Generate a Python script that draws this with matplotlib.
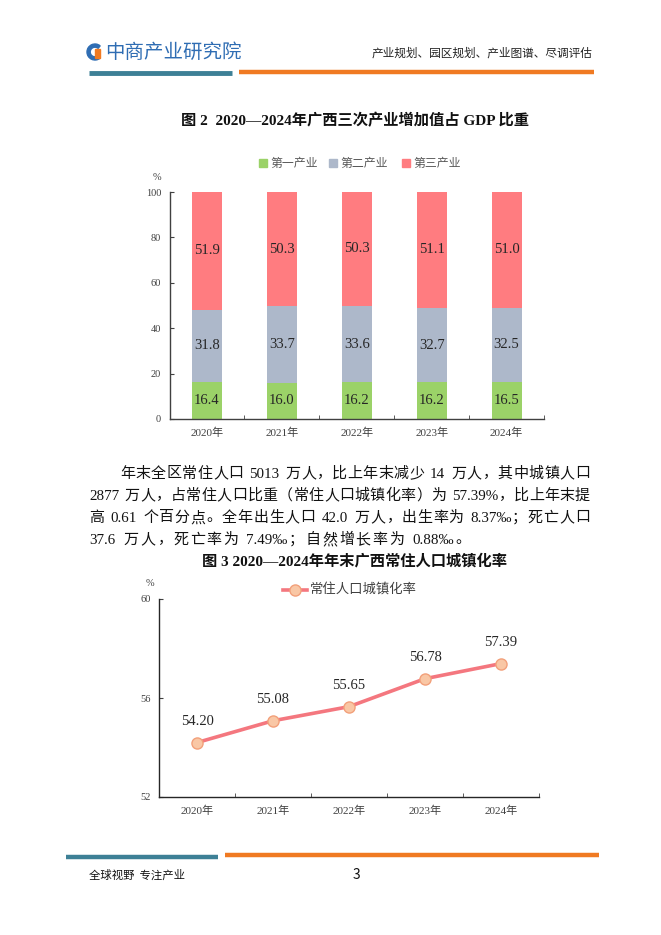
import re
import matplotlib
matplotlib.use("Agg")
import matplotlib.pyplot as plt
from matplotlib.patches import Wedge, Rectangle
from matplotlib.lines import Line2D

# ---------------- data ----------------
years = ["2020年", "2021年", "2022年", "2023年", "2024年"]
industry_names = ["第一产业", "第二产业", "第三产业"]
primary = [16.4, 16.0, 16.2, 16.2, 16.5]
secondary = [31.8, 33.7, 33.6, 32.7, 32.5]
tertiary = [51.9, 50.3, 50.3, 51.1, 51.0]
urban_rate = [54.20, 55.08, 55.65, 56.78, 57.39]
urban_name = "常住人口城镇化率"
bar_yticks = [0, 20, 40, 60, 80, 100]
line_yticks = [52, 56, 60]

title2 = "图 2  2020—2024年广西三次产业增加值占 GDP 比重"
title3 = "图 3 2020—2024年年末广西常住人口城镇化率"
body_lines = [
    "年末全区常住人口 5013 万人，比上年末减少 14 万人，其中城镇人口",
    "2877 万人，占常住人口比重（常住人口城镇化率）为 57.39%，比上年末提",
    "高 0.61 个百分点。全年出生人口 42.0 万人，出生率为 8.37‰；死亡人口",
    "37.6 万人，死亡率为 7.49‰；自然增长率为 0.88‰。",
]

# ---------------- style ----------------
C_GREEN = "#9BD268"
C_GREY = "#ADB8CA"
C_RED = "#FF7C80"
C_LINE = "#F4777F"
C_MFACE = "#F9C7A5"
C_MEDGE = "#F2A07A"
C_TEAL = "#3D8096"
C_ORANGE = "#F07A22"
C_LOGO = "#2F6DB3"
SERIF = ["Liberation Serif", "Noto Sans CJK SC", "DejaVu Sans"]
SANS = ["Noto Sans CJK SC", "DejaVu Sans"]
plt.rcParams["font.family"] = SANS

W, H = 661, 935
fig = plt.figure(figsize=(W / 100, H / 100), dpi=100)
page = fig.add_axes([0, 0, 1, 1])
page.set_xlim(0, W)
page.set_ylim(H, 0)
page.axis("off")

# ---------------- header ----------------
page.add_patch(Wedge((95, 52), 8, 50, 310, width=3.2, color=C_LOGO))
page.add_patch(Rectangle((95, 49), 5, 9, color=C_ORANGE))
page.text(105, 52, "中商产业研究院", fontsize=14, color=C_LOGO, va="center",
          ha="left", family=SANS)
page.text(592, 53, "产业规划、园区规划、产业图谱、尽调评估", fontsize=8.4,
          color="#222222", va="center", ha="right", family=SANS)
page.plot([89, 232], [73, 73], color=C_TEAL, lw=3.5, solid_capstyle="butt")
page.plot([239, 594], [72, 72], color=C_ORANGE, lw=3.2, solid_capstyle="butt")

# ---------------- footer ----------------
page.plot([66, 218], [857, 857], color=C_TEAL, lw=3.2, solid_capstyle="butt")
page.plot([225, 599], [855, 855], color=C_ORANGE, lw=3.2, solid_capstyle="butt")
page.text(89, 875, "全球视野  专注产业", fontsize=8.2, color="#111111",
          va="center", ha="left", family=SANS)
page.text(356, 875, "3", fontsize=10, color="#111111", va="center",
          ha="center", family=SANS)

# ---------------- titles ----------------
page.text(355, 121, title2, fontsize=11, weight="bold", family=SERIF,
          ha="center", va="center", color="#111111")
page.text(355, 561, title3, fontsize=11, weight="bold", family=SERIF,
          ha="center", va="center", color="#111111")

# ---------------- body text (justified) ----------------
renderer = fig.canvas.get_renderer()
BODY_FS = 10.8
SPACE_W = 5.0


def place_line(text, x0, x1, y, justify=True):
    tokens = re.findall(r"[A-Za-z0-9.%‰]+| |\S", text)
    items = []
    for tok in tokens:
        if tok == " ":
            items.append((None, SPACE_W))
            continue
        t = page.text(0, y, tok, fontsize=BODY_FS, family=SERIF,
                      va="center", ha="left", color="#111111")
        bb = t.get_window_extent(renderer)
        items.append((t, bb.width))
    if justify:
        gap = (x1 - x0 - sum(w for _, w in items)) / (len(items) - 1)
    else:
        gap = 1.6
    x = x0
    for t, w in items:
        if t is not None:
            t.set_x(x)
        x += w + gap


place_line(body_lines[0], 120, 590, 474)
place_line(body_lines[1], 89, 590, 496)
place_line(body_lines[2], 89, 590, 518)
place_line(body_lines[3], 89, 452, 540, justify=False)

# ---------------- bar chart ----------------
axb = fig.add_axes([169.5 / W, 1 - 419 / H, (544 - 169.5) / W, (419 - 192) / H])
x = list(range(len(years)))
bw = 0.4
axb.bar(x, primary, width=bw, color=C_GREEN, zorder=2)
axb.bar(x, secondary, width=bw, bottom=primary, color=C_GREY, zorder=2)
bottom3 = [p + s for p, s in zip(primary, secondary)]
axb.bar(x, tertiary, width=bw, bottom=bottom3, color=C_RED, zorder=2)
for i in x:
    axb.text(i, primary[i] / 2, f"{primary[i]:.1f}", ha="center", va="center",
             fontsize=10.5, family=SERIF, color="#262626")
    axb.text(i, primary[i] + secondary[i] / 2, f"{secondary[i]:.1f}",
             ha="center", va="center", fontsize=10.5, family=SERIF, color="#262626")
    axb.text(i, bottom3[i] + tertiary[i] / 2, f"{tertiary[i]:.1f}",
             ha="center", va="center", fontsize=10.5, family=SERIF, color="#262626")
axb.set_xlim(-0.5, 4.5)
axb.set_ylim(0, 100)
axb.set_yticks(bar_yticks)
axb.set_yticklabels([str(v) for v in bar_yticks], fontsize=7.5, family=SERIF,
                    color="#404040")
axb.set_xticks(x)
axb.set_xticklabels(years, fontsize=8, family=SERIF, color="#404040")
axb.set_xticks([i + 0.5 for i in x], minor=True)
axb.tick_params(axis="x", which="major", length=0, pad=6)
axb.tick_params(axis="x", which="minor", length=3, direction="in", color="#404040")
axb.tick_params(axis="y", length=3, direction="in", color="#404040", pad=6)
for s in ["top", "right"]:
    axb.spines[s].set_visible(False)
for s in ["left", "bottom"]:
    axb.spines[s].set_color("#404040")
    axb.spines[s].set_linewidth(1.0)
page.text(157, 177, "%", fontsize=7.5, family=SERIF, ha="center", va="center",
          color="#404040")
# legend
for cx, col, name in zip([263, 333, 406], [C_GREEN, C_GREY, C_RED], industry_names):
    page.add_patch(Rectangle((cx - 4, 159), 8, 8, color=col))
    page.text(cx + 7, 163, name, fontsize=8.6, family=SANS, va="center",
              ha="left", color="#595959")

# ---------------- line chart ----------------
axl = fig.add_axes([159 / W, 1 - 797 / H, (539 - 159) / W, (797 - 599) / H])
axl.plot(x, urban_rate, color=C_LINE, lw=2.6, marker="o", markersize=8,
         markerfacecolor=C_MFACE, markeredgecolor=C_MEDGE, markeredgewidth=1.0,
         zorder=3, clip_on=False)
for i, v in zip(x, urban_rate):
    axl.annotate(f"{v:.2f}", (i, v), xytext=(0, 15), textcoords="offset points",
                 ha="center", va="center", fontsize=10.5, family=SERIF,
                 color="#262626")
axl.set_xlim(-0.5, 4.5)
axl.set_ylim(52, 60)
axl.set_yticks(line_yticks)
axl.set_yticklabels([str(v) for v in line_yticks], fontsize=7.5, family=SERIF,
                    color="#404040")
axl.set_xticks(x)
axl.set_xticklabels(years, fontsize=8, family=SERIF, color="#404040")
axl.set_xticks([i + 0.5 for i in x], minor=True)
axl.tick_params(axis="x", which="major", length=0, pad=6)
axl.tick_params(axis="x", which="minor", length=3, direction="in", color="#404040")
axl.tick_params(axis="y", length=3, direction="in", color="#404040", pad=6)
for s in ["top", "right"]:
    axl.spines[s].set_visible(False)
for s in ["left", "bottom"]:
    axl.spines[s].set_color("#262626")
    axl.spines[s].set_linewidth(1.0)
page.text(150, 584, "%", fontsize=7.5, family=SERIF, ha="center", va="center",
          color="#404040")
# legend
page.add_line(Line2D([283, 307], [590, 590], color=C_LINE, lw=2.6))
page.add_line(Line2D([295], [590], marker="o", markersize=8, color=C_LINE,
                     markerfacecolor=C_MFACE, markeredgecolor=C_MEDGE))
page.text(310, 590, urban_name, fontsize=9.6, family=SANS, va="center",
          ha="left", color="#404040")

fig.savefig("out.png", dpi=100)
